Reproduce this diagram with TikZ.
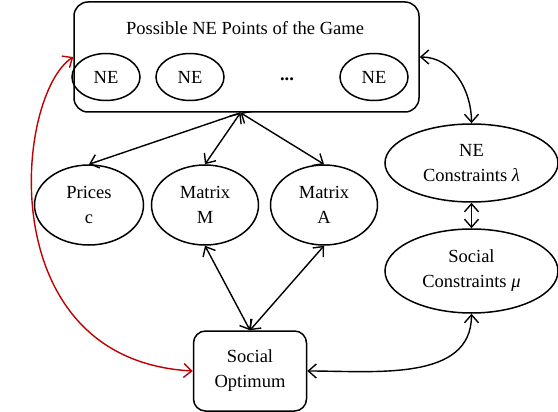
\documentclass[tikz,border=0pt]{standalone}
\usepackage{fontspec}
\setmainfont{Liberation Serif}
\usetikzlibrary{arrows.meta,shapes.geometric}
\definecolor{myred}{HTML}{C00000}
\begin{document}
\begin{tikzpicture}[x=1pt,y=-1pt,
  every node/.style={font=\fontsize{18.5}{25}\selectfont, align=center},
  ell/.style={draw, ellipse, line width=1.5pt, inner sep=0pt},
  rbox/.style={draw, rounded corners=14pt, line width=1.5pt, inner sep=0pt},
  conn/.style={line width=1.4pt, {Straight Barb[length=8pt,width=14pt]}-{Straight Barb[length=8pt,width=14pt]}},
  oneway/.style={line width=1.4pt, -{Straight Barb[length=8pt,width=14pt]}}
]
\useasboundingbox (0,0) rectangle (558,412);
% top box
\node[rbox, minimum width=345pt, minimum height=110pt] (top) at (246.5,57) {};
\node (title) at (245,28) {Possible NE Points of the Game};
\node[ell, minimum width=68pt, minimum height=47pt] (ne1) at (106,77) {NE};
\node[ell, minimum width=68pt, minimum height=47pt] (ne2) at (190,77) {NE};
\node[ell, minimum width=68pt, minimum height=47pt] (ne3) at (374,77) {NE};
\node[font=\fontsize{18.5}{25}\bfseries] (dots) at (287,79) {...};
% middle ellipses
\node[ell, minimum width=109pt, minimum height=80pt] (pc) at (89,205) {Prices\\c};
\node[ell, minimum width=107pt, minimum height=80pt] (mm) at (205,205) {Matrix\\M};
\node[ell, minimum width=107pt, minimum height=80pt] (ma) at (324,205) {Matrix\\A};
\node[ell, minimum width=173pt, minimum height=78pt] (nec) at (471.5,163) {NE\\Constraints \textit{λ}};
\node[ell, minimum width=173pt, minimum height=84pt] (sc) at (471.5,271) {Social\\Constraints \textit{μ}};
% social optimum
\node[rbox, rounded corners=12pt, minimum width=113pt, minimum height=80pt] (so) at (250,371) {Social\\Optimum};
\coordinate (tb) at ([xshift=-6pt]top.south);
% connectors
\draw[oneway] (tb) -- (pc.north);
\draw[conn] (tb) -- (mm.north);
\draw[conn] (tb) -- (ma.north);
\draw[conn] (mm.south) -- (so.north);
\draw[conn] (ma.south) -- (so.north);
\draw[conn] (top.east) to[out=0,in=90] (nec.north);
\draw[conn] (nec.south) -- (sc.north);
\draw[conn] (so.east) to[out=0,in=-90] (sc.south);
\draw[conn, myred] (top.west) .. controls (15,95) and (-10,360) .. (so.west);
\end{tikzpicture}
\end{document}
